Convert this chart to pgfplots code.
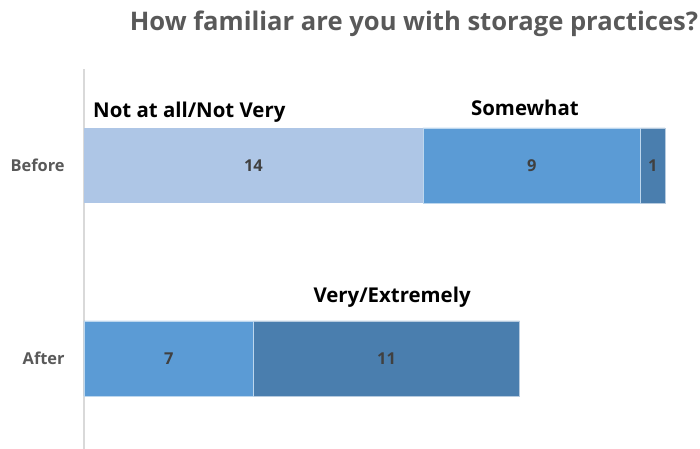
\documentclass[border=0pt]{standalone}
\usepackage{pgfplots}
\pgfplotsset{compat=1.18}
\usepackage{fontspec}
\setmainfont{Open Sans}
\definecolor{cA}{HTML}{AEC6E6}
\definecolor{cB}{HTML}{5B9BD5}
\definecolor{cC}{HTML}{4A7EAE}
\definecolor{axgray}{HTML}{D9D9D9}
\definecolor{tgray}{HTML}{595959}
\definecolor{vgray}{HTML}{404040}
\pgfplotsset{base/.style={at={(63pt,0pt)}, anchor=south west, scale only axis,
  width=453.75pt, height=285pt, xmin=0, xmax=25, ymin=-0.47, ymax=1.5}}
\begin{document}
\begin{tikzpicture}
\useasboundingbox (0,0) rectangle (525pt,336.75pt);
\begin{axis}[base, xbar stacked, bar width=56.25pt,
  axis x line=none, axis y line*=left,
  y axis line style={axgray, line width=1pt, -},
  ytick={0,1}, yticklabels={After,Before}, major tick length=0pt,
  yticklabel style={font=\bfseries\fontsize{12.3}{14}\selectfont, text=tgray, xshift=-11pt}]
\addplot[fill=cA, draw=none] coordinates {(14,1) (0,0)};
\addplot[fill=cB, draw=white!60!cB, line width=0.4pt] coordinates {(9,1) (7,0)};
\addplot[fill=cC, draw=white!60!cC, line width=0.4pt] coordinates {(1,1) (11,0)};
\end{axis}
\begin{axis}[base, axis lines=none]
\addplot[draw=none, nodes near coords, point meta=explicit symbolic,
  every node near coord/.style={font=\bfseries\fontsize{12.3}{14}\selectfont, text=vgray, anchor=center}]
  table[meta=l] {
x y l
7 1 14
18.5 1 9
23.5 1 1
3.5 0 7
12.5 0 11
};
\node[anchor=west, inner sep=0pt, font=\bfseries\fontsize{15.3}{17}\selectfont] at (axis cs:0.37,1.275) {Not at all/Not Very};
\node[font=\bfseries\fontsize{15.3}{17}\selectfont] at (axis cs:18.22,1.30) {Somewhat};
\node[font=\bfseries\fontsize{15.3}{17}\selectfont] at (axis cs:12.73,0.316) {Very/Extremely};
\end{axis}
\node[font=\bfseries\fontsize{19.2}{22}\selectfont, text=tgray] at (310.5pt,319pt) {How familiar are you with storage practices?};
\end{tikzpicture}
\end{document}
